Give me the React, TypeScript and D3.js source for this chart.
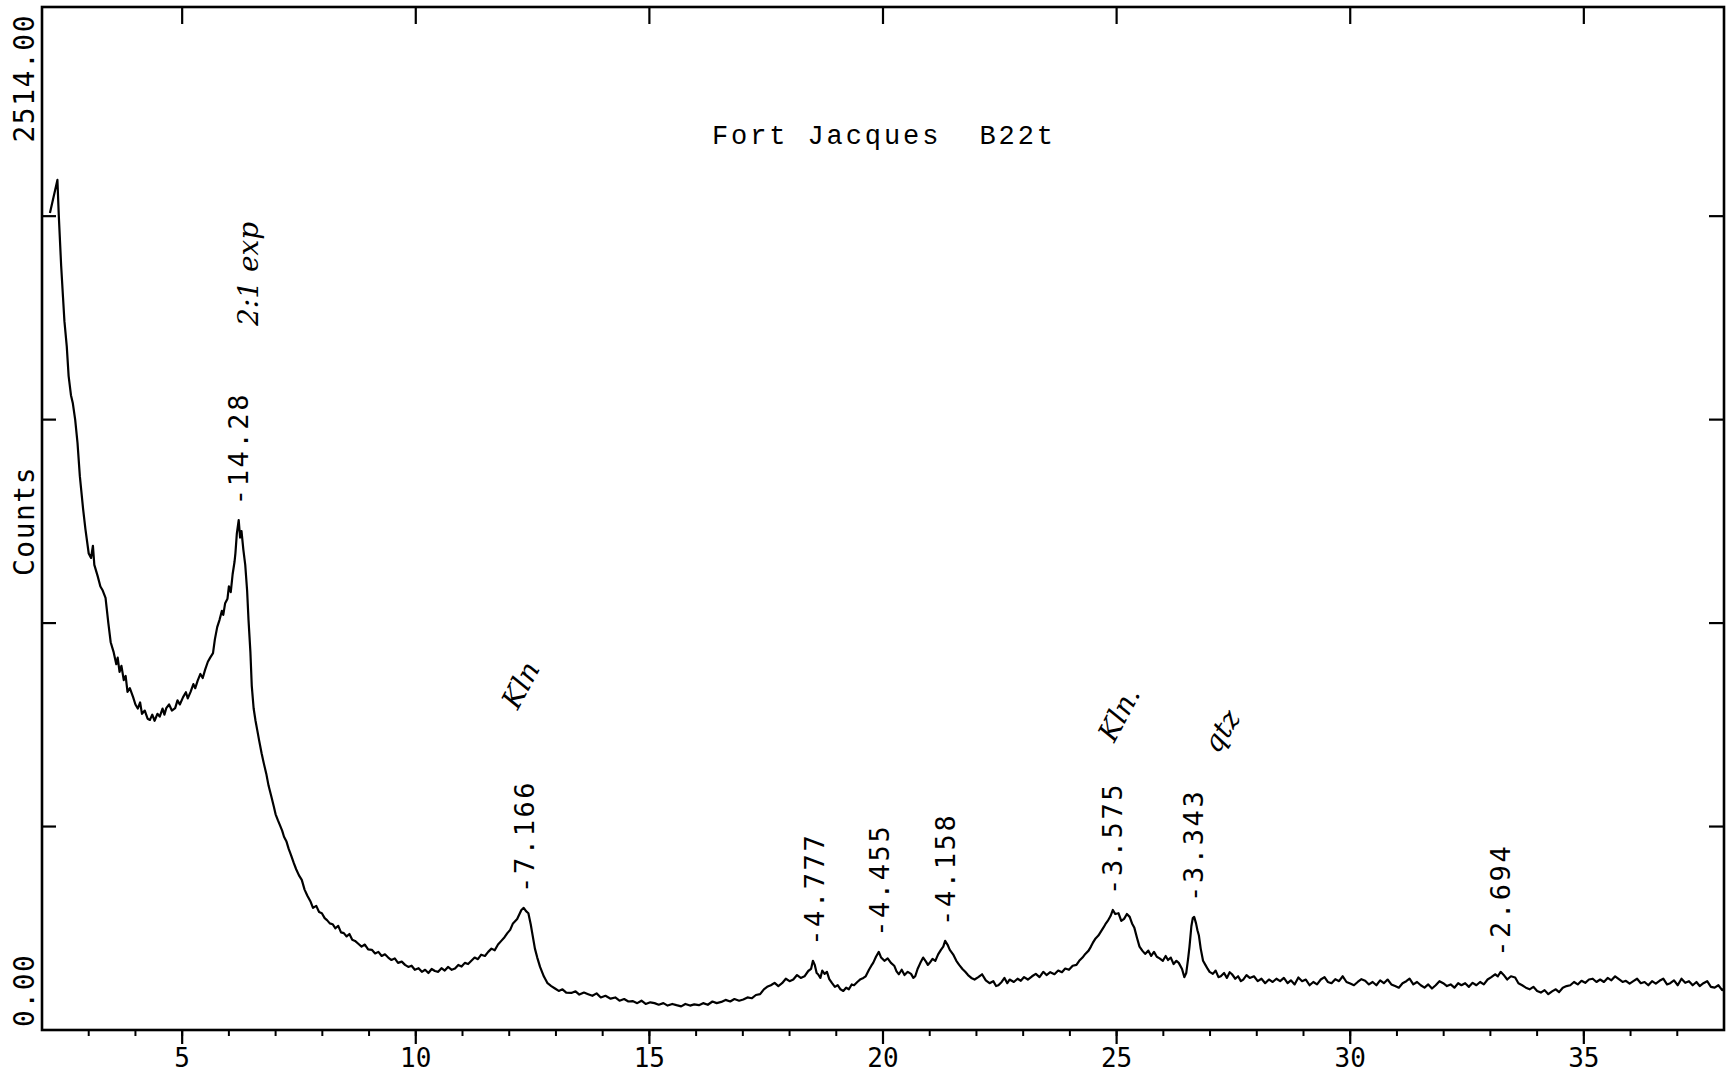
import React from "react";
import * as d3 from "d3";

// diffractogram: [2-theta (deg), counts]
const scan: [number, number][] = [
  [2.17, 2008], [2.33, 2089], [2.36, 2000], [2.41, 1878], [2.45, 1800], [2.48, 1742], [2.53, 1680], [2.57, 1607],
  [2.62, 1560], [2.66, 1540], [2.71, 1500], [2.76, 1443], [2.81, 1361], [2.88, 1280], [2.93, 1230], [3.0, 1171],
  [3.05, 1160], [3.09, 1190], [3.12, 1143], [3.19, 1116], [3.25, 1090], [3.3, 1080], [3.36, 1062], [3.42, 1000],
  [3.47, 953], [3.53, 930], [3.59, 899], [3.62, 915], [3.66, 880], [3.7, 895], [3.75, 860], [3.79, 870],
  [3.83, 831], [3.88, 840], [3.95, 818], [4.0, 800], [4.05, 790], [4.1, 805], [4.14, 777], [4.2, 785],
  [4.26, 765], [4.31, 762], [4.36, 775], [4.41, 760], [4.47, 777], [4.52, 770], [4.58, 790], [4.62, 775],
  [4.66, 791], [4.72, 800], [4.78, 785], [4.85, 791], [4.9, 810], [4.95, 800], [5.02, 818], [5.08, 830],
  [5.12, 815], [5.18, 831], [5.24, 850], [5.28, 840], [5.33, 858], [5.39, 875], [5.44, 865], [5.49, 885],
  [5.55, 905], [5.6, 915], [5.66, 926], [5.7, 960], [5.75, 990], [5.8, 1008], [5.85, 1030], [5.88, 1020],
  [5.92, 1049], [5.97, 1060], [6.0, 1090], [6.04, 1076], [6.08, 1120], [6.12, 1150], [6.14, 1172], [6.17, 1220],
  [6.21, 1253], [6.24, 1210], [6.27, 1226], [6.31, 1180], [6.35, 1143], [6.39, 1080], [6.42, 1008], [6.46, 930],
  [6.49, 845], [6.53, 790], [6.57, 760], [6.61, 735], [6.65, 710], [6.7, 680], [6.75, 654], [6.8, 630],
  [6.85, 600], [6.91, 573], [6.96, 550], [7.0, 530], [7.05, 515], [7.09, 504], [7.14, 490], [7.18, 475],
  [7.23, 464], [7.28, 445], [7.33, 430], [7.39, 410], [7.44, 395], [7.5, 380], [7.56, 369], [7.62, 345],
  [7.68, 330], [7.75, 315], [7.8, 300], [7.87, 305], [7.93, 290], [7.99, 287], [8.05, 275], [8.1, 270],
  [8.16, 262], [8.22, 260], [8.28, 250], [8.34, 256], [8.4, 240], [8.46, 238], [8.52, 230], [8.58, 236],
  [8.64, 222], [8.7, 219], [8.77, 212], [8.84, 205], [8.91, 210], [8.98, 198], [9.06, 197], [9.13, 188],
  [9.2, 192], [9.27, 182], [9.34, 186], [9.41, 178], [9.48, 172], [9.55, 176], [9.62, 165], [9.7, 168],
  [9.77, 160], [9.84, 155], [9.91, 158], [9.98, 148], [10.06, 152], [10.13, 143], [10.2, 148], [10.27, 140],
  [10.34, 150], [10.41, 145], [10.48, 143], [10.55, 152], [10.62, 146], [10.69, 155], [10.77, 148], [10.84, 151],
  [10.91, 160], [10.98, 156], [11.05, 165], [11.12, 162], [11.19, 170], [11.26, 178], [11.33, 174], [11.4, 185],
  [11.48, 182], [11.55, 192], [11.62, 200], [11.69, 196], [11.76, 210], [11.83, 219], [11.9, 228], [11.96, 238],
  [12.02, 246], [12.08, 262], [12.13, 268], [12.17, 273], [12.22, 285], [12.26, 295], [12.31, 300], [12.36, 292],
  [12.41, 287], [12.46, 260], [12.5, 233], [12.55, 200], [12.6, 178], [12.66, 155], [12.74, 132], [12.82, 115],
  [12.9, 108], [12.98, 102], [13.06, 96], [13.14, 100], [13.22, 92], [13.33, 91], [13.42, 95], [13.5, 87],
  [13.6, 92], [13.69, 88], [13.78, 84], [13.87, 90], [13.96, 80], [14.06, 84], [14.17, 77], [14.27, 80],
  [14.36, 72], [14.46, 76], [14.55, 70], [14.64, 71], [14.74, 66], [14.83, 72], [14.92, 64], [15.02, 68],
  [15.11, 66], [15.2, 62], [15.3, 66], [15.39, 60], [15.49, 64], [15.58, 61], [15.68, 58], [15.77, 64],
  [15.87, 60], [15.96, 63], [16.06, 61], [16.15, 66], [16.25, 62], [16.35, 70], [16.44, 66], [16.54, 69],
  [16.63, 74], [16.73, 70], [16.82, 76], [16.92, 72], [17.01, 75], [17.1, 80], [17.19, 78], [17.28, 86],
  [17.37, 88], [17.45, 100], [17.52, 106], [17.6, 110], [17.68, 116], [17.76, 108], [17.84, 115], [17.92, 126],
  [18.0, 120], [18.08, 124], [18.16, 135], [18.24, 128], [18.32, 132], [18.4, 145], [18.46, 150], [18.5, 170],
  [18.54, 160], [18.58, 140], [18.61, 137], [18.66, 128], [18.7, 146], [18.75, 138], [18.8, 143], [18.85, 125],
  [18.91, 115], [18.97, 106], [19.03, 110], [19.09, 100], [19.15, 96], [19.21, 104], [19.27, 100], [19.33, 112],
  [19.38, 110], [19.45, 118], [19.52, 125], [19.58, 128], [19.63, 132], [19.7, 148], [19.75, 158], [19.79, 165],
  [19.85, 180], [19.91, 192], [19.96, 178], [20.03, 170], [20.1, 176], [20.17, 165], [20.24, 158], [20.29, 144],
  [20.34, 137], [20.4, 148], [20.46, 135], [20.53, 143], [20.6, 138], [20.65, 128], [20.69, 132], [20.74, 150],
  [20.8, 165], [20.86, 178], [20.92, 168], [20.96, 160], [21.0, 165], [21.06, 175], [21.12, 170], [21.18, 186],
  [21.24, 197], [21.29, 205], [21.33, 219], [21.38, 210], [21.43, 197], [21.5, 186], [21.57, 170], [21.63, 160],
  [21.7, 150], [21.76, 143], [21.82, 135], [21.89, 128], [21.96, 124], [22.04, 130], [22.12, 137], [22.2, 122],
  [22.28, 115], [22.36, 120], [22.42, 108], [22.47, 110], [22.54, 118], [22.6, 128], [22.66, 115], [22.71, 124],
  [22.8, 118], [22.88, 126], [22.95, 121], [23.02, 130], [23.1, 124], [23.19, 132], [23.27, 138], [23.35, 130],
  [23.43, 143], [23.5, 135], [23.58, 142], [23.67, 137], [23.75, 146], [23.83, 142], [23.9, 151], [23.98, 148],
  [24.06, 158], [24.14, 160], [24.2, 170], [24.27, 178], [24.33, 187], [24.4, 195], [24.45, 205], [24.49, 214],
  [24.55, 225], [24.61, 232], [24.66, 241], [24.72, 252], [24.76, 260], [24.81, 268], [24.87, 280], [24.92, 295],
  [24.97, 285], [25.04, 287], [25.1, 268], [25.16, 273], [25.22, 285], [25.28, 278], [25.33, 262], [25.38, 251],
  [25.44, 225], [25.49, 205], [25.55, 195], [25.61, 187], [25.68, 195], [25.74, 182], [25.8, 192], [25.86, 180],
  [25.92, 176], [25.99, 170], [26.05, 182], [26.1, 172], [26.16, 178], [26.22, 162], [26.28, 170], [26.33, 165],
  [26.4, 150], [26.45, 130], [26.49, 140], [26.53, 175], [26.56, 205], [26.6, 255], [26.63, 275], [26.66, 278],
  [26.7, 262], [26.73, 245], [26.76, 233], [26.8, 200], [26.85, 170], [26.9, 160], [26.95, 150], [26.99, 143],
  [27.06, 138], [27.12, 146], [27.18, 130], [27.23, 132], [27.3, 140], [27.36, 128], [27.42, 142], [27.47, 137],
  [27.54, 126], [27.6, 132], [27.66, 120], [27.71, 124], [27.78, 135], [27.85, 128], [27.94, 132], [28.02, 120],
  [28.1, 126], [28.18, 115], [28.26, 124], [28.34, 118], [28.42, 126], [28.5, 120], [28.58, 128], [28.66, 115],
  [28.73, 122], [28.81, 112], [28.89, 129], [28.97, 120], [29.05, 124], [29.13, 110], [29.21, 118], [29.29, 112],
  [29.37, 124], [29.45, 130], [29.52, 118], [29.6, 115], [29.68, 125], [29.76, 120], [29.84, 132], [29.92, 118],
  [30.0, 114], [30.08, 110], [30.16, 118], [30.24, 125], [30.32, 121], [30.4, 112], [30.48, 118], [30.56, 110],
  [30.64, 122], [30.72, 115], [30.8, 124], [30.88, 112], [30.96, 108], [31.04, 104], [31.12, 115], [31.2, 120],
  [31.27, 126], [31.35, 112], [31.43, 118], [31.51, 110], [31.59, 104], [31.67, 112], [31.75, 102], [31.83, 110],
  [31.91, 120], [31.99, 115], [32.07, 108], [32.15, 112], [32.23, 104], [32.31, 115], [32.38, 110], [32.46, 115],
  [32.54, 106], [32.62, 116], [32.7, 110], [32.78, 118], [32.86, 112], [32.94, 124], [33.02, 130], [33.1, 137],
  [33.16, 132], [33.22, 143], [33.28, 136], [33.36, 124], [33.44, 132], [33.53, 129], [33.6, 115], [33.68, 110],
  [33.76, 104], [33.84, 100], [33.92, 106], [34.0, 96], [34.08, 92], [34.16, 98], [34.24, 88], [34.32, 95],
  [34.4, 100], [34.47, 93], [34.55, 104], [34.63, 108], [34.71, 110], [34.79, 118], [34.87, 112], [34.95, 121],
  [35.03, 116], [35.11, 124], [35.19, 126], [35.27, 118], [35.35, 124], [35.43, 118], [35.51, 128], [35.59, 122],
  [35.67, 132], [35.75, 125], [35.83, 118], [35.9, 121], [35.98, 114], [36.06, 120], [36.14, 126], [36.22, 115],
  [36.3, 118], [36.38, 110], [36.46, 120], [36.54, 114], [36.62, 121], [36.7, 126], [36.78, 112], [36.85, 115],
  [36.93, 122], [37.01, 110], [37.09, 126], [37.17, 116], [37.25, 120], [37.33, 110], [37.41, 118], [37.48, 108],
  [37.56, 115], [37.64, 120], [37.72, 106], [37.8, 104], [37.88, 110], [37.96, 98], [38.0, 102],
];

// d-spacing labels printed above the peaks
const peakTheta = [6.2, 12.32, 18.52, 19.91, 21.34, 24.9, 26.65, 33.22];
const peakCounts = [1253, 300, 170, 192, 219, 295, 278, 143];
const peakLabels = ["-14.28", "-7.166", "-4.777", "-4.455", "-4.158", "-3.575", "-3.343", "-2.694"];

// hand-written notes
const noteText = ["2:1 exp", "Kln", "Kln.", "qtz"];
const noteTheta = [6.42, 12.24, 25.05, 27.24];
const noteCounts = [1858, 848, 777, 735];
const noteAngle = [-90, -62, -62, -58];

const xMajor = [5, 10, 15, 20, 25, 30, 35];
const xMinor = d3.range(3, 38);
const yTicks = [500, 1000, 1500, 2000];

const W = 1736;
const H = 1075;
const left = 42, top = 7, right = 1724, bottom = 1030;

const x = d3.scaleLinear().domain([2, 38]).range([left, right]);
const y = d3.scaleLinear().domain([0, 2514]).range([bottom, top]);

const mono = "'DejaVu Sans Mono', monospace";

export default function App() {
  const line = d3.line<[number, number]>()
    .x(d => x(d[0]))
    .y(d => y(d[1]));

  return (
    <svg width={W} height={H} style={{ position: "absolute", left: 0, top: 0, background: "#fff" }}>
      <rect x={0} y={0} width={W} height={H} fill="#fff" />

      {/* frame */}
      <rect x={left} y={top} width={right - left} height={bottom - top}
        fill="none" stroke="#000" strokeWidth={2.6} />

      {/* bottom axis ticks */}
      {xMinor.map(v => (
        <line key={"mi" + v} x1={x(v)} x2={x(v)} y1={bottom} y2={bottom + 6} stroke="#000" strokeWidth={2} />
      ))}
      {xMajor.map(v => (
        <g key={"ma" + v}>
          <line x1={x(v)} x2={x(v)} y1={bottom} y2={bottom + 14} stroke="#000" strokeWidth={2.2} />
          <line x1={x(v)} x2={x(v)} y1={top} y2={top + 17} stroke="#000" strokeWidth={2.2} />
          <text x={x(v)} y={1067} textAnchor="middle" fontFamily={mono} fontSize={26}>{v}</text>
        </g>
      ))}

      {/* left / right ticks */}
      {yTicks.map(v => (
        <g key={"y" + v}>
          <line x1={left} x2={left + 14} y1={y(v)} y2={y(v)} stroke="#000" strokeWidth={2.2} />
          <line x1={right - 15} x2={right} y1={y(v)} y2={y(v)} stroke="#000" strokeWidth={2.2} />
        </g>
      ))}

      {/* y labels */}
      <text transform={`translate(34,14) rotate(-90)`} textAnchor="end" fontFamily={mono} fontSize={28}
        letterSpacing={1.5}>2514.00</text>
      <text transform={`translate(34,1027) rotate(-90)`} textAnchor="start" fontFamily={mono} fontSize={28}
        letterSpacing={1.5}>0.00</text>
      <text transform={`translate(34,521) rotate(-90)`} textAnchor="middle" fontFamily={mono} fontSize={28}
        letterSpacing={1.5}>Counts</text>

      {/* title */}
      <text x={712} y={144} fontFamily="'Liberation Mono', monospace" fontSize={27} letterSpacing={2.9}
        xmlSpace="preserve">{"Fort Jacques  B22t"}</text>

      {/* trace */}
      <path d={line(scan) ?? ""} fill="none" stroke="#000" strokeWidth={2.2} strokeLinejoin="round" />

      {/* peak labels */}
      {peakLabels.map((t, i) => (
        <text key={t} transform={`translate(${x(peakTheta[i])},${y(peakCounts[i]) - 15}) rotate(-90)`}
          dy="0.36em" fontFamily={mono} fontSize={27} letterSpacing={2.6}>{t}</text>
      ))}

      {/* hand-written notes */}
      {noteText.map((t, i) => (
        <text key={t} transform={`translate(${x(noteTheta[i])},${y(noteCounts[i])}) rotate(${noteAngle[i]})`}
          textAnchor="middle" dy="0.35em" fontFamily="'DejaVu Serif', serif" fontStyle="italic" fontSize={28}>{t}</text>
      ))}
    </svg>
  );
}
